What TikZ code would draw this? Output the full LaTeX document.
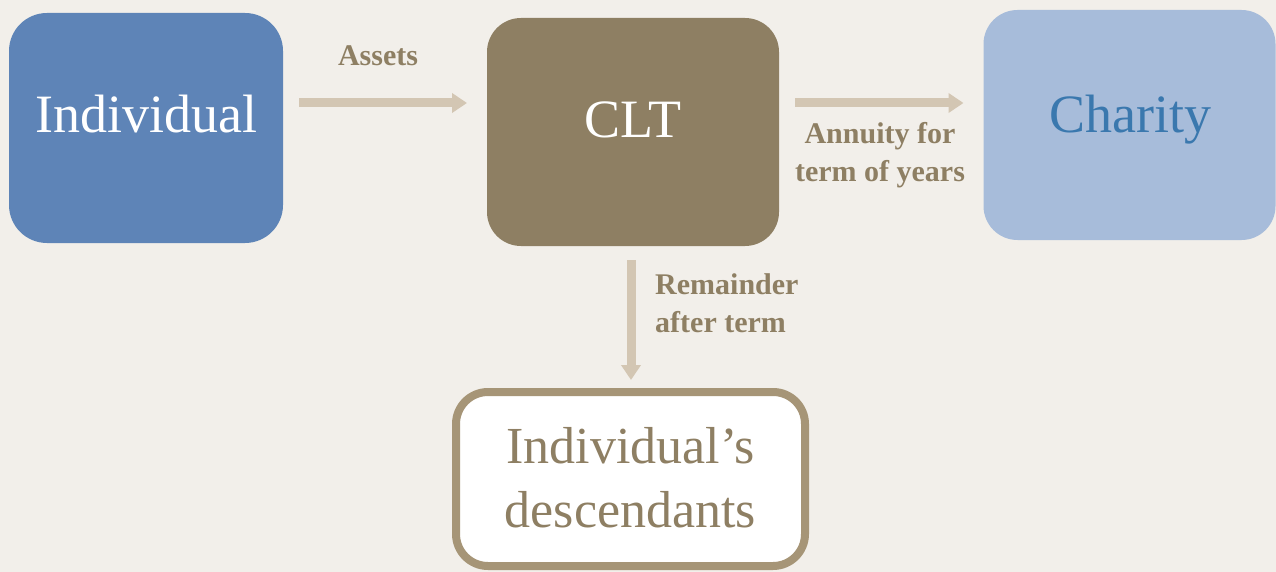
\documentclass[tikz,border=0pt]{standalone}
\usepackage{fontspec}
\setmainfont{Liberation Serif}
\usetikzlibrary{arrows.meta}
\definecolor{bg}{HTML}{F2EFEA}
\definecolor{indblue}{HTML}{5E84B7}
\definecolor{cltbrown}{HTML}{8E7F63}
\definecolor{chablue}{HTML}{A7BCDA}
\definecolor{chatext}{HTML}{3A78AE}
\definecolor{descborder}{HTML}{A69577}
\definecolor{arrowcol}{HTML}{D3C6B3}
\definecolor{labelcol}{HTML}{8E7F63}
\tikzset{
  boxstyle/.style={rectangle, inner sep=0pt, outer sep=0pt, rounded corners=38pt},
  boxtext/.style={anchor=base, inner sep=0pt, font=\fontsize{54}{64}\selectfont, align=center},
  flowarrow/.style={draw=arrowcol, line width=9pt, -{Triangle[length=15pt,width=19pt]}},
  lbl/.style={text=labelcol, font=\bfseries\fontsize{30}{38}\selectfont, inner sep=0pt}
}
\begin{document}
\begin{tikzpicture}[x=1pt,y=-1pt]
\useasboundingbox[fill=bg] (0,0) rectangle (1276,572);
\node[boxstyle, fill=indblue, minimum width=274pt, minimum height=230pt] (ind) at (146,128) {};
\node[boxstyle, fill=cltbrown, minimum width=292pt, minimum height=228pt, rounded corners=34pt] (clt) at (633,132) {};
\node[boxstyle, fill=chablue, minimum width=292pt, minimum height=230pt, rounded corners=34pt] (cha) at (1129.5,125) {};
\node[boxstyle, fill=white, draw=descborder, line width=8pt, minimum width=349pt, minimum height=174pt, rounded corners=32pt] (desc) at (630.5,479) {};

\node[boxtext, text=white] (indt) at (146,133) {Individual};
\node[boxtext, text=white] (cltt) at (633,138) {CLT};
\node[boxtext, text=chatext] (chat) at (1130,133) {Charity};
\node[boxtext, text=labelcol, font=\fontsize{52}{64}\selectfont] (desct) at (630.5,527) {Individual’s\\descendants};

\draw[flowarrow, shorten <=16pt, shorten >=20pt] (ind.east |- 0,103) -- (clt.west |- 0,103);
\draw[flowarrow, shorten <=16pt, shorten >=20pt] (clt.east |- 0,103) -- (cha.west |- 0,103);
\draw[flowarrow, shorten <=14pt, shorten >=12pt] (clt.south -| 631,0) -- (desc.north -| 631,0);

\node[lbl, anchor=base] (la) at (378,66) {Assets};
\node[lbl, anchor=base, align=center] (lb) at (880,182) {Annuity for\\term of years};
\node[lbl, anchor=base west, align=left] (lc) at (655,332) {Remainder\\after term};
\end{tikzpicture}
\end{document}
